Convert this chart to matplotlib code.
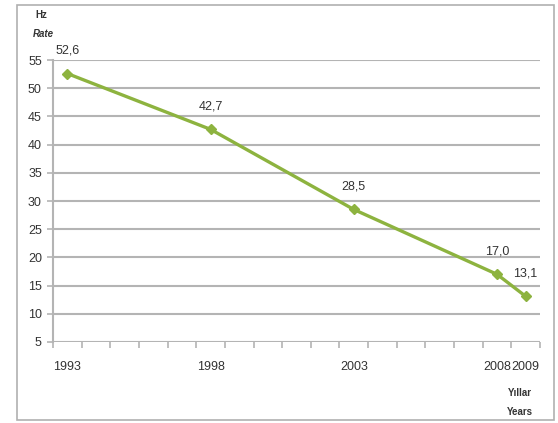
import matplotlib
matplotlib.use("Agg")
import matplotlib.pyplot as plt
import numpy as np

years = [1993, 1998, 2003, 2008, 2009]
rates = [52.6, 42.7, 28.5, 17.0, 13.1]
rate_labels = ["52,6", "42,7", "28,5", "17,0", "13,1"]
y_ticks = [5, 10, 15, 20, 25, 30, 35, 40, 45, 50, 55]

plt.rcParams['font.family'] = ['Liberation Sans Narrow', 'Liberation Sans', 'DejaVu Sans']

fig = plt.figure(figsize=(5.58, 4.23), dpi=100)
fig.patch.set_facecolor('white')
# outer frame
fig.add_artist(plt.Rectangle((17/558, 3/423), 537/558, 415/423, transform=fig.transFigure,
                             fill=False, edgecolor='#b0b0b0', lw=1.2))

ax = fig.add_axes([53/558, 1 - 342/423, (540 - 53)/558, (342 - 60)/423])
line_col = '#8db33f'
grid_col = '#b4b4b4'

ax.plot(years, rates, color=line_col, lw=2.4, marker='D', markersize=5.5,
        markerfacecolor=line_col, markeredgecolor=line_col, zorder=3)

for x, y, t in zip(years, rates, rate_labels):
    ax.annotate(t, (x, y), xytext=(0, 12), textcoords='offset points',
                ha='center', va='bottom', fontsize=9, color='#333333')

ax.set_xlim(1992.5, 2009.5)
ax.set_ylim(5, 55)
ax.set_yticks(y_ticks)
ax.set_yticklabels([str(v) for v in y_ticks], fontsize=9, color='#333333')
for v in y_ticks:
    ax.axhline(v, color=grid_col, lw=1.5, zorder=1)

ax.set_xticks(years)
ax.set_xticklabels([str(y) for y in years], fontsize=9, color='#333333')
ax.tick_params(axis='x', length=0, pad=14)
ax.set_xticks(np.arange(1992.5, 2010, 1.0), minor=True)
ax.tick_params(axis='x', which='minor', length=4, color=grid_col, width=1.2)
ax.tick_params(axis='y', length=4, color=grid_col, width=1.2, pad=4)

for s in ['top', 'right', 'bottom']:
    ax.spines[s].set_visible(False)
ax.spines['left'].set_color(grid_col)
ax.spines['left'].set_linewidth(1.5)

fig.text(35/558, 1 - 15/423, "Hz", fontsize=7, fontweight='bold', color='#333333', ha='left', va='center')
fig.text(33/558, 1 - 34/423, "Rate", fontsize=7, fontweight='bold', style='italic', color='#333333', ha='left', va='center')
fig.text(520/558, 1 - 393/423, "Yıllar", fontsize=7, fontweight='bold', color='#333333', ha='center', va='center')
fig.text(520/558, 1 - 412/423, "Years", fontsize=7, fontweight='bold', color='#333333', ha='center', va='center')

fig.savefig("out.png", dpi=100)
